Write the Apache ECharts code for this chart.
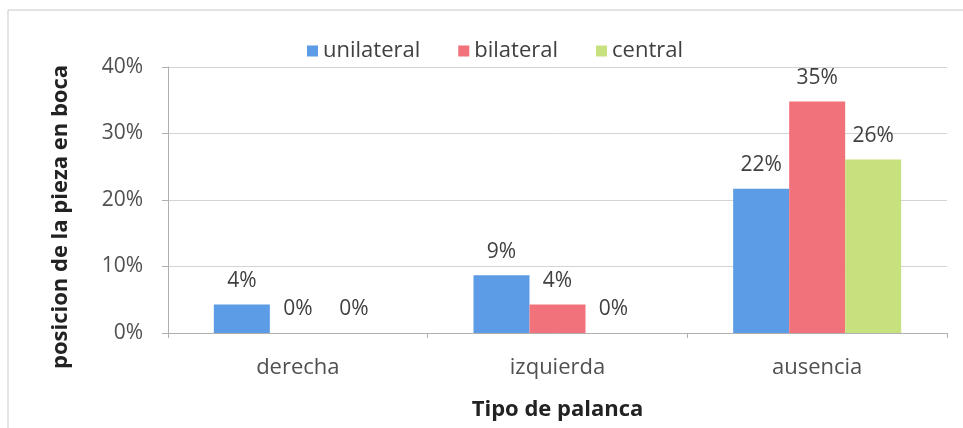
<!DOCTYPE html>
<html>
<head>
<meta charset="utf-8">
<script src="https://cdn.jsdelivr.net/npm/echarts@6/dist/echarts.min.js"></script>
<style>
  html, body { margin: 0; padding: 0; background: #fff; }
  #chart { width: 963px; height: 428px; }
</style>
</head>
<body>
<div id="chart"></div>
<script>
// datos (porcentajes)
var categorias = ['derecha', 'izquierda', 'ausencia'];
var unilateral = [4.3, 8.7, 21.7];
var bilateral = [0, 4.3, 34.8];
var central = [0, 0, 26.1];
var ticksY = [0, 10, 20, 30, 40];

var fuente = '"Open Sans", Lato, sans-serif';

function serie(nombre, datos, color) {
    return {
        name: nombre,
        type: 'bar',
        data: datos,
        barWidth: 56,
        barGap: '0%',
        itemStyle: { color: color },
        label: {
            show: true,
            position: 'top',
            distance: 13,
            color: '#404040',
            fontFamily: fuente,
            fontSize: 21,
            formatter: function (p) { return Math.round(p.value) + '%'; }
        }
    };
}

var chartDom = document.getElementById('chart');
var myChart = echarts.init(chartDom);
var option = {
    backgroundColor: '#fff',
    animation: false,
    graphic: [{
        type: 'rect',
        shape: { x: 8, y: 10, width: 960, height: 425 },
        style: { fill: 'none', stroke: '#c8c8c8', lineWidth: 1 },
        silent: true
    }],
    legend: {
        top: 35,
        left: 302,
        itemWidth: 11,
        itemHeight: 11,
        itemGap: 38,
        icon: 'rect',
        textStyle: { fontFamily: fuente, fontSize: 22, color: '#404040' },
        data: ['unilateral', 'bilateral', 'central']
    },
    grid: { left: 168, right: 16, top: 67, bottom: 95, outerBoundsMode: 'none' },
    xAxis: {
        type: 'category',
        data: categorias,
        name: 'Tipo de palanca',
        nameLocation: 'middle',
        nameGap: 66,
        nameTextStyle: { fontFamily: fuente, fontSize: 22, fontWeight: 'bold', color: '#222' },
        axisLine: { lineStyle: { color: '#b0b0b0' } },
        axisTick: { show: true, length: 5, lineStyle: { color: '#b0b0b0' } },
        axisLabel: { fontFamily: fuente, fontSize: 22, color: '#505050', margin: 24 }
    },
    yAxis: {
        type: 'value',
        min: ticksY[0],
        max: ticksY[ticksY.length - 1],
        interval: 10,
        name: 'posicion de la pieza en boca',
        nameLocation: 'middle',
        nameGap: 96,
        nameTextStyle: { fontFamily: fuente, fontSize: 22, fontWeight: 'bold', color: '#222', padding: [0, 34, 0, 0] },
        axisLine: { show: true, lineStyle: { color: '#b0b0b0' } },
        axisTick: { show: true, length: 6, lineStyle: { color: '#b0b0b0' } },
        axisLabel: { fontFamily: fuente, fontSize: 21, color: '#505050', margin: 25, formatter: '{value}%' },
        splitLine: { lineStyle: { color: '#d4d4d4' } }
    },
    series: [
        serie('unilateral', unilateral, '#5c9be6'),
        serie('bilateral', bilateral, '#f2727c'),
        serie('central', central, '#c6e17e')
    ]
};
option && myChart.setOption(option);
</script>
</body>
</html>
